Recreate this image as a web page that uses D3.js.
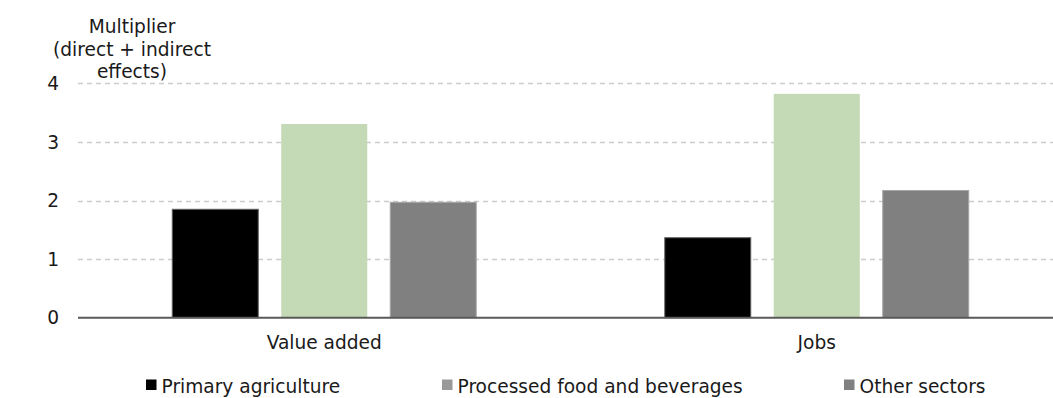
<!DOCTYPE html>
<html><head><meta charset="utf-8">
<script src="https://cdn.jsdelivr.net/npm/d3@7"></script>
<style>
body{margin:0;background:#fff;}
text{font-family:"DejaVu Sans",Verdana,sans-serif;fill:#1a1a1a;}
</style></head>
<body><svg id="c" width="1053" height="398"></svg>
<script>
const categories = ["Value added", "Jobs"];
const seriesNames = ["Primary agriculture", "Processed food and beverages", "Other sectors"];
const primaryValues = [1.85, 1.365];
const processedValues = [3.305, 3.82];
const otherValues = [1.97, 2.17];
const yTicks = [0, 1, 2, 3, 4];
const titleLines = ["Multiplier", "(direct + indirect", "effects)"];

const barColors = ["#000000", "#c4d9b5", "#808080"];
const barStrokes = ["#606060", "none", "#a6a6a6"];
const legendColors = ["#000000", "#999999", "#808080"];

const svg = d3.select("#c");
const fs = 18.6;
const x0 = d3.scaleBand().domain(categories).range([78, 1063]).padding(0);
const x1 = d3.scaleBand().domain(seriesNames).range([0, x0.bandwidth()]).paddingInner(0.211).paddingOuter(0.865);
const y = d3.scaleLinear().domain([0, 4]).range([317.7, 83.3]);

// gridlines
svg.append("g").selectAll("line").data(yTicks.filter(d => d > 0)).join("line")
  .attr("x1", 78).attr("x2", 1053)
  .attr("y1", d => Math.round(y(d)) + 0.5).attr("y2", d => Math.round(y(d)) + 0.5)
  .attr("stroke", "#cccccc").attr("stroke-width", 1.3).attr("stroke-dasharray", "5,4");

// y tick labels
svg.append("g").selectAll("text").data(yTicks).join("text")
  .attr("x", 59).attr("y", d => y(d) + 6.7)
  .attr("text-anchor", "end").attr("font-size", fs).text(d => d);

// bars
const rows = categories.map((c, i) => ({cat: c, vals: [primaryValues[i], processedValues[i], otherValues[i]]}));
const g = svg.append("g").selectAll("g").data(rows).join("g")
  .attr("transform", d => `translate(${x0(d.cat)},0)`);
g.selectAll("rect").data(d => d.vals.map((v, j) => ({s: seriesNames[j], v, j}))).join("rect")
  .attr("x", d => x1(d.s)).attr("width", x1.bandwidth())
  .attr("y", d => y(d.v)).attr("height", d => y(0) - y(d.v))
  .attr("fill", d => barColors[d.j])
  .attr("stroke", d => barStrokes[d.j]).attr("stroke-width", 1);

// axis line
svg.append("line").attr("x1", 78).attr("x2", 1053).attr("y1", y(0)).attr("y2", y(0))
  .attr("stroke", "#5a5a5a").attr("stroke-width", 2);

// category labels
svg.append("g").selectAll("text").data(categories).join("text")
  .attr("x", d => x0(d) + x0.bandwidth() / 2).attr("y", 349.3)
  .attr("text-anchor", "middle").attr("font-size", fs).text(d => d);

// title
svg.append("g").selectAll("text").data(titleLines).join("text")
  .attr("x", 132).attr("y", (d, i) => 33.3 + i * 22.2)
  .attr("text-anchor", "middle").attr("font-size", fs).text(d => d);

// legend
const legX = [146, 442, 844];
const lg = svg.append("g").selectAll("g").data(seriesNames).join("g")
  .attr("transform", (d, i) => `translate(${legX[i]},0)`);
lg.append("rect").attr("x", 0).attr("y", 379.5).attr("width", 10.5).attr("height", 10.5)
  .attr("fill", (d, i) => legendColors[i]);
lg.append("text").attr("x", 15.5).attr("y", 392.7).attr("font-size", fs).text(d => d);
</script></body></html>
